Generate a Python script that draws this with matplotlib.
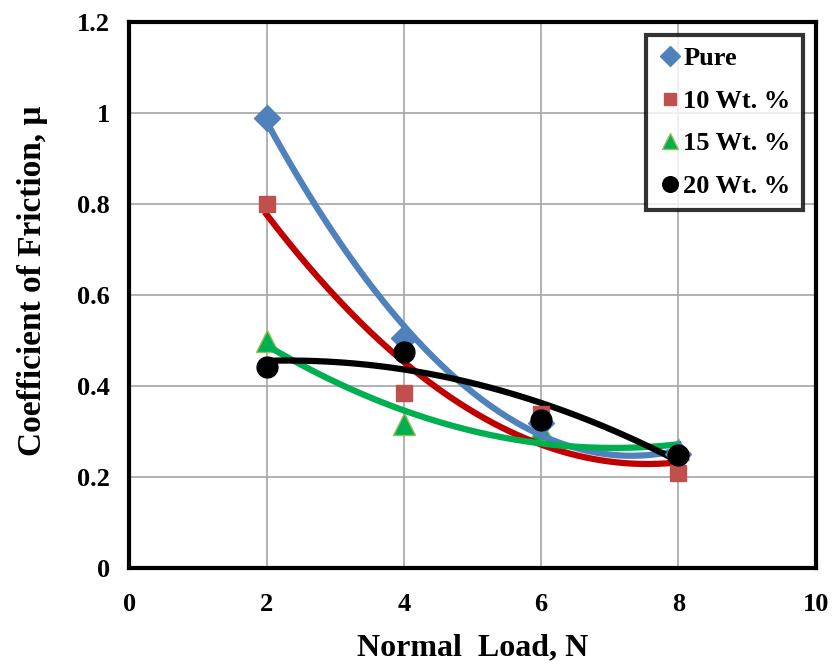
import numpy as np
import matplotlib
matplotlib.use("Agg")
import matplotlib.pyplot as plt

load = [2, 4, 6, 8]
pure = [0.99, 0.505, 0.32, 0.25]
wt10 = [0.80, 0.385, 0.34, 0.21]
wt15 = [0.50, 0.316, 0.305, 0.262]
wt20 = [0.443, 0.475, 0.325, 0.248]
labels = ["Pure", "10 Wt. %", "15 Wt. %", "20 Wt. %"]

plt.rcParams['font.family'] = ['Liberation Serif', 'DejaVu Serif']
plt.rcParams['font.weight'] = 'bold'

fig = plt.figure(figsize=(8.34, 6.67), dpi=100)
ax = fig.add_axes([0.155, 0.148, 0.823, 0.819])

series = [
    (pure, "#4F81BD", "#4F81BD", "D", 13, "#4F81BD"),
    (wt10, "#C0504D", "#C0504D", "s", 12, "#C00000"),
    (wt15, "#00B050", "#9BBB59", "^", 16, "#00B050"),
    (wt20, "black", "black", "o", 15, "black"),
]
xs = np.linspace(2, 8, 200)
for (vals, fc, ec, mk, ms, lc), lab in zip(series, labels):
    coef = np.polyfit(load, vals, 2)
    ax.plot(xs, np.polyval(coef, xs), color=lc, lw=4.5, zorder=3)
for i, ((vals, fc, ec, mk, ms, lc), lab) in enumerate(zip(series, labels)):
    ax.plot(load, vals, linestyle='none', marker=mk, markersize=ms,
            markerfacecolor=fc, markeredgecolor=ec, label=lab,
            zorder=2.5 if i == 2 else 4)

ax.set_xlim(0, 10)
ax.set_ylim(0, 1.2)
ax.set_xticks([0, 2, 4, 6, 8, 10])
ax.set_yticks([0, 0.2, 0.4, 0.6, 0.8, 1.0, 1.2])
ax.set_yticklabels(["0", "0.2", "0.4", "0.6", "0.8", "1", "1.2"])
ax.tick_params(axis='x', length=0, labelsize=19, pad=18)
ax.tick_params(axis='y', length=0, labelsize=19, pad=14)
for t in ax.get_xticklabels() + ax.get_yticklabels():
    t.set_fontweight('bold')
ax.grid(True, color="#A6A6A6", lw=1.2)
ax.set_axisbelow(True)
for s in ax.spines.values():
    s.set_linewidth(3)
    s.set_color('black')

ax.set_xlabel("Normal  Load, N", fontsize=23, fontweight='bold', labelpad=12)
ax.set_ylabel("Coefficient of Friction, \u03bc", fontsize=24, fontweight='bold')
ax.yaxis.set_label_coords(-0.118, 0.527)

leg = ax.legend(loc='upper right', bbox_to_anchor=(0.981, 0.976), fontsize=19,
                frameon=True, fancybox=False, handletextpad=0.05, handlelength=0.9,
                labelspacing=0.72, borderpad=0.45, borderaxespad=0.0, markerscale=0.75)
leg.get_frame().set_edgecolor('black')
leg.get_frame().set_linewidth(3)
for t in leg.get_texts():
    t.set_fontweight('bold')

fig.savefig("out.png", dpi=100)
